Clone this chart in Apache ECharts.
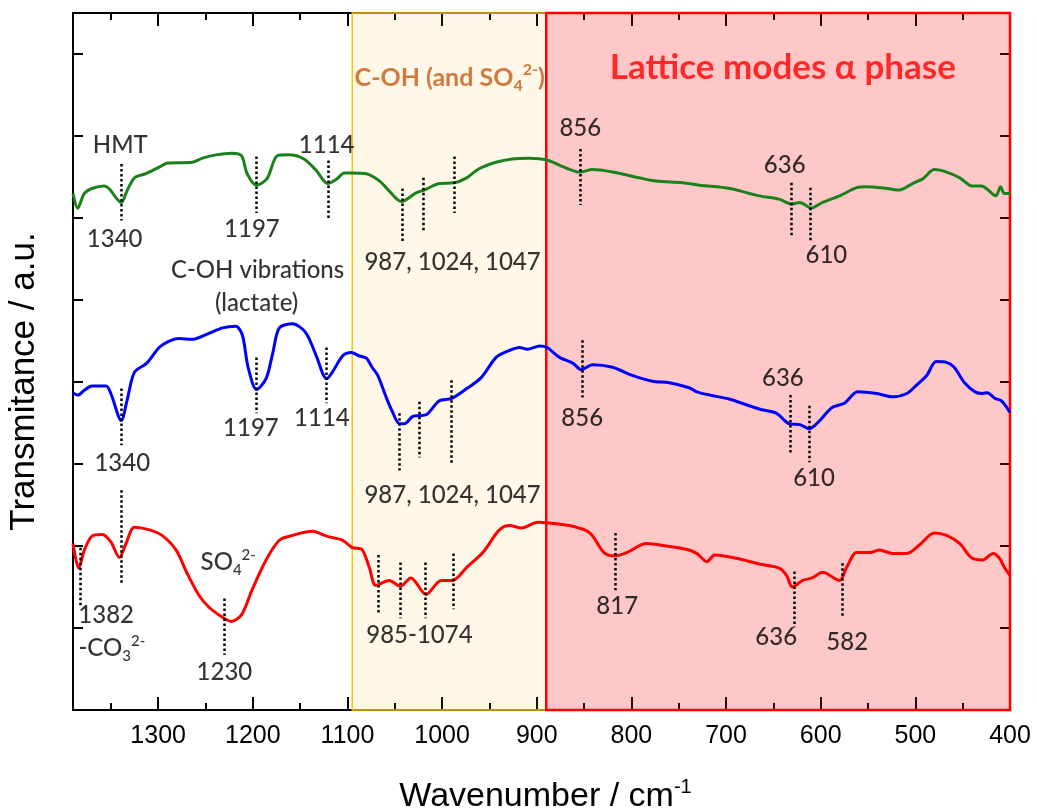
<!DOCTYPE html>
<html><head><meta charset="utf-8">
<script src="https://cdn.jsdelivr.net/npm/echarts@6/dist/echarts.min.js"></script>
<style>html,body{margin:0;padding:0;background:#fff}#c{width:1037px;height:809px}</style>
</head><body><div id="c"></div>
<script>
// ---- data: [wavenumber (cm-1), transmittance (a.u.)] ----
const greenCurve = [[1390,6.30],[1385,6.12],[1378,6.30],[1370,6.36],[1357,6.39],[1352,6.36],[1339,6.19],[1333,6.33],[1325,6.49],[1313,6.54],[1299,6.62],[1290,6.67],[1264,6.68],[1253,6.73],[1239,6.77],[1222,6.79],[1212,6.76],[1206,6.54],[1196,6.40],[1185,6.48],[1174,6.76],[1162,6.77],[1146,6.72],[1133,6.58],[1121,6.42],[1112,6.47],[1103,6.55],[1095,6.55],[1080,6.54],[1066,6.45],[1056,6.33],[1043,6.20],[1027,6.31],[1019,6.34],[1003,6.42],[987,6.43],[974,6.49],[961,6.60],[943,6.68],[926,6.72],[908,6.73],[890,6.71],[869,6.61],[855,6.56],[841,6.59],[820,6.56],[792,6.49],[774,6.45],[746,6.43],[728,6.40],[696,6.36],[665,6.27],[644,6.23],[631,6.17],[622,6.19],[610,6.12],[598,6.19],[580,6.27],[562,6.37],[552,6.38],[530,6.36],[517,6.34],[503,6.42],[492,6.48],[480,6.59],[467,6.56],[453,6.49],[440,6.39],[430,6.39],[425,6.36],[415,6.27],[410,6.38],[406,6.30],[400,6.30]];
const blueCurve = [[1390,3.87],[1385,3.84],[1378,3.90],[1370,3.95],[1355,3.95],[1350,3.86],[1339,3.53],[1333,3.77],[1325,4.12],[1312,4.23],[1299,4.42],[1290,4.49],[1278,4.53],[1264,4.52],[1249,4.58],[1232,4.66],[1218,4.68],[1211,4.57],[1205,4.18],[1196,3.91],[1186,4.04],[1179,4.35],[1172,4.66],[1158,4.71],[1144,4.60],[1133,4.32],[1122,4.04],[1116,4.12],[1105,4.32],[1096,4.36],[1088,4.32],[1080,4.29],[1074,4.18],[1068,4.08],[1059,3.81],[1053,3.65],[1045,3.49],[1040,3.49],[1031,3.58],[1024,3.59],[1017,3.60],[1003,3.77],[990,3.80],[974,3.92],[959,4.05],[943,4.30],[932,4.37],[918,4.42],[910,4.40],[897,4.44],[889,4.42],[876,4.30],[862,4.23],[853,4.15],[841,4.21],[820,4.18],[799,4.08],[778,4.01],[760,3.99],[739,3.93],[731,3.88],[717,3.84],[696,3.79],[665,3.67],[647,3.62],[633,3.49],[622,3.48],[612,3.43],[601,3.53],[588,3.69],[575,3.74],[561,3.88],[541,3.86],[524,3.82],[509,3.86],[499,3.96],[488,4.08],[478,4.25],[467,4.24],[459,4.18],[448,3.99],[437,3.88],[429,3.86],[424,3.87],[416,3.80],[409,3.77],[400,3.63]];
const redCurve = [[1390,2.03],[1384,1.73],[1378,1.95],[1370,2.12],[1359,2.14],[1350,2.05],[1341,1.86],[1334,2.03],[1325,2.23],[1310,2.20],[1296,2.13],[1281,1.95],[1270,1.68],[1257,1.40],[1246,1.25],[1232,1.13],[1223,1.08],[1212,1.16],[1201,1.46],[1186,1.83],[1172,2.07],[1158,2.13],[1144,2.17],[1137,2.18],[1122,2.12],[1105,2.07],[1095,1.98],[1085,1.96],[1077,1.74],[1070,1.52],[1056,1.58],[1044,1.51],[1033,1.61],[1017,1.41],[1001,1.58],[989,1.58],[974,1.74],[957,1.92],[940,2.19],[929,2.25],[916,2.22],[899,2.29],[887,2.28],[862,2.24],[844,2.16],[829,1.92],[818,1.88],[805,1.92],[784,2.03],[763,2.00],[742,1.96],[731,1.91],[720,1.81],[712,1.89],[689,1.85],[665,1.78],[644,1.73],[636,1.64],[630,1.50],[619,1.58],[609,1.61],[598,1.68],[580,1.58],[573,1.73],[562,1.92],[548,1.92],[538,1.95],[524,1.91],[509,1.91],[496,2.01],[480,2.16],[467,2.13],[453,2.03],[441,1.86],[429,1.83],[418,1.91],[411,1.85],[406,1.74],[400,1.64]];

// peak markers: [wavenumber, top, bottom]
const peakMarks = [
  [1339,6.66,5.97],[1196,6.75,6.06],[1120,6.70,6.00],[1042,6.36,5.69],[1020,6.49,5.82],[987,6.75,6.06],[854,6.84,6.16],[631,6.43,5.76],[611,6.37,5.70],
  [1339,3.92,3.23],[1196,4.30,3.62],[1122,4.42,3.74],[1045,3.62,2.92],[1024,3.76,3.08],[990,4.02,3.01],[852,4.51,3.81],[632,3.84,3.14],[612,3.71,3.02],
  [1382,1.98,1.25],[1339,2.68,1.55],[1230,1.36,0.67],[1068,1.89,1.19],[1044,1.80,1.12],[1018,1.80,1.12],[988,1.91,1.23],[817,2.16,1.46],[628,1.69,1.01],[577,1.79,1.12]
];

// annotations: [wavenumber, transmittance, text]
const annotations = [
  [1340,6.89,'HMT'],[1346,5.74,'1340'],[1201,5.86,'1197'],[1122,6.89,'1114'],[989,5.46,'987, 1024, 1047'],
  [854,7.10,'856'],[638,6.64,'636'],[594,5.54,'610'],[1195,5.36,'C-OH vibrations'],[1196,4.96,'(lactate)'],
  [1338,3.01,'1340'],[1202,3.43,'1197'],[1127,3.56,'1114'],[852,3.56,'856'],[640,4.04,'636'],[607,2.82,'610'],[989,2.62,'987, 1024, 1047'],
  [1226,1.80,'SO{sub|4}{sup|2-}'],[1355,1.16,'1382'],[1349,0.75,'-CO{sub|3}{sup|2-}'],[1230,0.46,'1230'],[1024,0.91,'985-1074'],
  [815,1.27,'817'],[647,0.89,'636'],[572,0.83,'582']
];

// shaded regions: [from, to]
const regionCOH = [1095, 890];
const regionLattice = [890, 400];
const regionTitles = [[992,7.71,'C-OH (and SO{sub|4}{sup|2-})'],[640,7.83,'Lattice modes α phase']];

const xMin = 400, xMax = 1390;
const yMin = 0, yMax = 8.5;

const FA = '"Liberation Sans", Arial, sans-serif';
const FC = 'Lato, "Open Sans", "Noto Sans", sans-serif';

function xAx(pos, interval, len, showLine, showLabel, extra) {
  return Object.assign({
    type: 'value', position: pos, min: xMin, max: xMax, inverse: true, interval: interval, gridIndex: 0,
    axisLine: { show: showLine, onZero: false, lineStyle: { color: '#000', width: 2 } },
    axisTick: { show: true, inside: true, length: len, lineStyle: { color: '#000', width: 2 } },
    axisLabel: { show: showLabel, fontFamily: FA, fontSize: 25, color: '#000', margin: 14,
      formatter: v => (v % 100 === 0 ? String(v) : '') },
    splitLine: { show: false }
  }, extra || {});
}
function yAx(pos, extra) {
  return Object.assign({
    type: 'value', position: pos, min: yMin, max: yMax, interval: 1,
    axisLine: { show: true, onZero: false, lineStyle: { color: '#000', width: 2 } },
    axisTick: { show: true, inside: true, length: 10, lineStyle: { color: '#000', width: 2 } },
    axisLabel: { show: false }, splitLine: { show: false }
  }, extra || {});
}

const subsup = (size, color) => ({
  sub: { fontSize: size, lineHeight: size, verticalAlign: 'bottom', color: color },
  sup: { fontSize: size, lineHeight: size, verticalAlign: 'top', color: color }
});

const chart = echarts.init(document.getElementById('c'), null, { renderer: 'canvas' });
chart.setOption({
  animation: false,
  backgroundColor: '#fff',
  grid: { left: 73, right: 27, top: 13, bottom: 99, containLabel: false, outerBoundsMode: 'none' },
  xAxis: [
    xAx('bottom', 100, 13, true, true, {
      name: 'Wavenumber / cm{sup|-1}', nameLocation: 'middle', nameGap: 67,
      nameTextStyle: { fontFamily: FA, fontSize: 34, color: '#000', lineHeight: 40, padding: [0, 0, 0, 8],
        rich: { sup: { fontSize: 20, lineHeight: 20, verticalAlign: 'top', fontFamily: FA, color: '#000' } } }
    }),
    xAx('bottom', 50, 7, false, false),
    xAx('top', 100, 13, true, false),
    xAx('top', 50, 7, false, false)
  ],
  yAxis: [
    yAx('left', { name: 'Transmitance / a.u.', nameLocation: 'middle', nameGap: 31,
      nameTextStyle: { fontFamily: FA, fontSize: 35, color: '#000', padding: [0, 40, 0, 0] } }),
    yAx('right')
  ],
  series: [
    { type: 'line', name: 'green', data: greenCurve, showSymbol: false, smooth: 0.3, silent: true,
      lineStyle: { color: '#1a821a', width: 3 }, z: 2 },
    { type: 'line', name: 'blue', data: blueCurve, showSymbol: false, smooth: 0.3, silent: true,
      lineStyle: { color: '#0000ff', width: 3 }, z: 2 },
    { type: 'line', name: 'red', data: redCurve, showSymbol: false, smooth: 0.3, silent: true,
      lineStyle: { color: '#ff0000', width: 3 }, z: 2 },
    { type: 'scatter', name: 'annotations', silent: true, z: 3,
      symbolSize: 1, itemStyle: { color: 'rgba(0,0,0,0)' },
      data: annotations.map(a => ({ value: [a[0], a[1]], label: { formatter: a[2] } })),
      label: { show: true, position: 'inside', align: 'center', verticalAlign: 'middle',
        fontFamily: FC, fontSize: 24, fontWeight: 500, lineHeight: 30, color: '#000', rich: subsup(15, '#000') },
      markLine: { silent: true, symbol: ['none', 'none'], label: { show: false },
        lineStyle: { color: '#000', width: 2.5, type: [2.5, 2.5] },
        emphasis: { disabled: true },
        data: peakMarks.map(p => [{ coord: [p[0], p[1]] }, { coord: [p[0], p[2]] }]) }
    },
    { type: 'scatter', name: 'regions', silent: true, z: 10, symbolSize: 0.1,
      itemStyle: { color: 'rgba(0,0,0,0)' }, data: [[xMin, yMin]],
      markArea: { silent: true, emphasis: { disabled: true },
        data: [
          [{ xAxis: regionCOH[0], itemStyle: { color: 'rgba(255,170,0,0.085)', borderColor: '#FFC000', borderWidth: 1.5 } }, { xAxis: regionCOH[1] }],
          [{ xAxis: regionLattice[0], itemStyle: { color: 'rgba(255,0,0,0.216)', borderColor: '#ff0000', borderWidth: 2.5 } }, { xAxis: regionLattice[1] }]
        ] }
    },
    { type: 'scatter', name: 'titles', silent: true, z: 11, symbolSize: 1,
      itemStyle: { color: 'rgba(0,0,0,0)' },
      data: regionTitles.map((t, i) => ({ value: [t[0], t[1]], label: {
        formatter: t[2], color: i === 0 ? '#C55A11' : '#ff0000', fontSize: i === 0 ? 25 : 35,
        lineHeight: i === 0 ? 32 : 40, rich: subsup(i === 0 ? 16 : 20, i === 0 ? '#C55A11' : '#ff0000') } })),
      label: { show: true, position: 'inside', align: 'center', verticalAlign: 'middle',
        fontFamily: FC, fontWeight: 'bold' }
    }
  ]
});
</script>
</body></html>
